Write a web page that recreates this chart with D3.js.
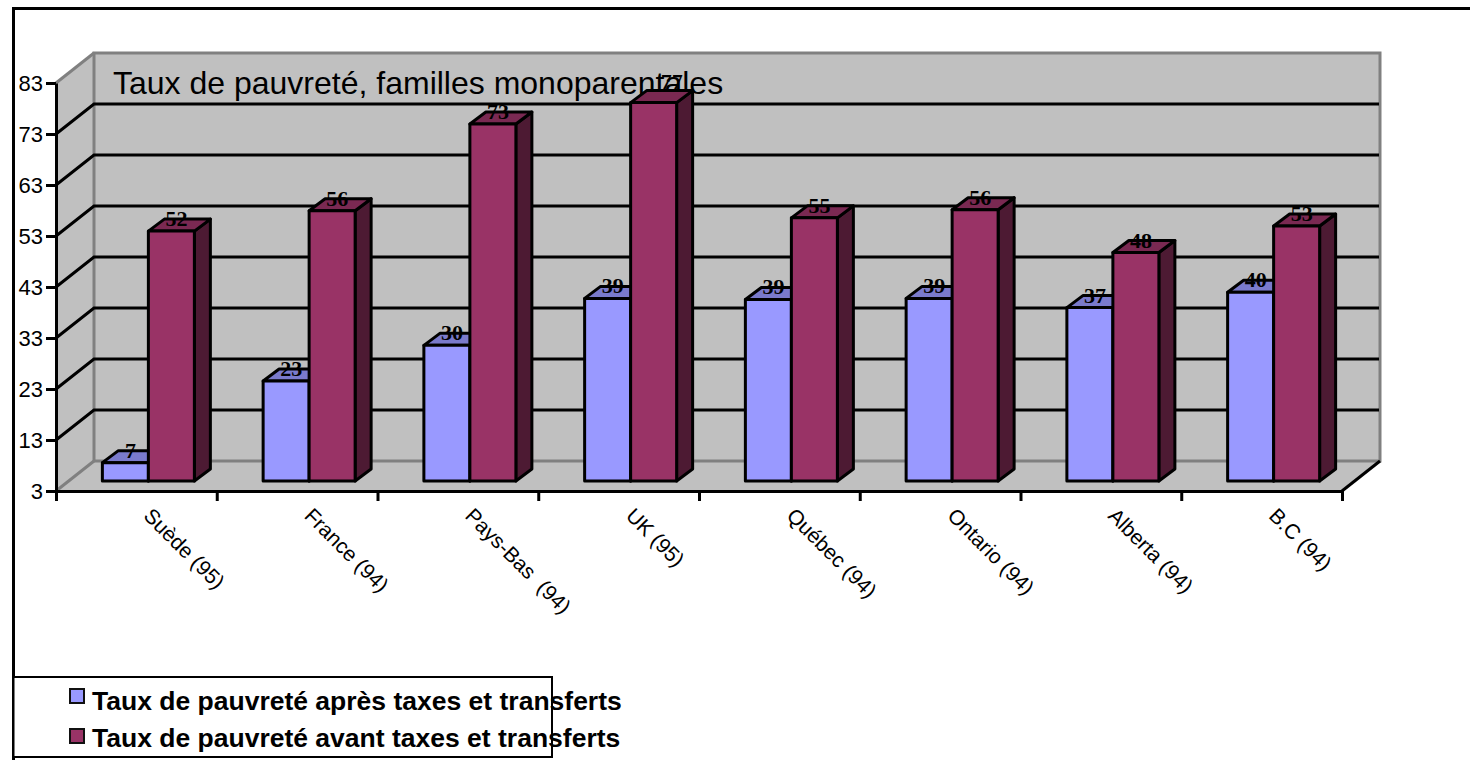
<!DOCTYPE html>
<html>
<head>
	<meta charset="utf-8">
	<script src="https://cdn.jsdelivr.net/npm/d3@7"></script>
	<style>
		html, body { margin: 0; padding: 0; background: #fff; overflow: hidden; }
		svg { display: block; }
	</style>
</head>
<body>
	<svg width="1470" height="760"></svg>
<script type="text/javascript">

	var categories = ['Suède (95)', 'France (94)', 'Pays-Bas  (94)', 'UK (95)', 'Québec (94)', 'Ontario (94)', 'Alberta (94)', 'B.C (94)']
	var apres = [6.6, 22.6, 29.6, 38.8, 38.6, 38.8, 37, 40]
	var avant = [52, 56, 73, 77.2, 54.6, 56.2, 47.8, 53]
	var yTicks = [3, 13, 23, 33, 43, 53, 63, 73, 83]
	var seriesNames = ['Taux de pauvreté après taxes et transferts', 'Taux de pauvreté avant taxes et transferts']
	var title = 'Taux de pauvreté, familles monoparentales'

	var colors = [
		{front: '#9999ff', top: '#7a7acc', side: '#4d4d80'},
		{front: '#993366', top: '#7a2952', side: '#4d1a33'}
	]

	var svg = d3.select('svg')

	// front plane of the 3d box, the back wall is shifted by depth
	var x0 = 56, x1 = 1342, yBottom = 491, yTop = 83
	var depth = {x: 38, y: -30}
	var barInset = {x: 12, y: -10}
	var barDepth = {x: 16, y: -12}
	var barWidth = 46

	var x = d3.scaleBand().domain(categories).range([x0, x1])
	var xEdges = d3.scaleLinear().domain([0, categories.length]).range([x0, x1])
	var y = d3.scaleLinear().domain([3, 83]).range([yBottom, yTop])

	function pts(list) {
		return list.map(function(p) { return p.join(',') }).join(' ')
	}

	var box = svg.append('g')

	// left wall
	box.append('polygon')
		.attr('points', pts([[x0, yBottom], [x0 + depth.x, yBottom + depth.y], [x0 + depth.x, yTop + depth.y], [x0, yTop]]))
		.style('fill', '#c0c0c0')
	// floor
	box.append('polygon')
		.attr('points', pts([[x0, yBottom], [x1, yBottom], [x1 + depth.x, yBottom + depth.y], [x0 + depth.x, yBottom + depth.y]]))
		.style('fill', '#c0c0c0')
	// back wall
	box.append('rect')
		.attr('x', x0 + depth.x)
		.attr('y', yTop + depth.y)
		.attr('width', x1 - x0)
		.attr('height', yBottom - yTop)
		.style('fill', '#c0c0c0')
		.style('stroke', '#808080')
		.style('stroke-width', 3)

	// grid on the wall, top and bottom ones stay grey
	box.selectAll('.grid')
		.data(yTicks.slice(1, -1))
		.enter()
		.append('polyline')
		.attr('class', 'grid')
		.attr('points', function(d) {
			return pts([[x0, y(d)], [x0 + depth.x, y(d) + depth.y], [x1 + depth.x - 1, y(d) + depth.y]])
		})
		.style('fill', 'none')
		.style('stroke', '#000')
		.style('stroke-width', 3)

	box.selectAll('.edge')
		.data([3, 83])
		.enter()
		.append('line')
		.attr('class', 'edge')
		.attr('x1', x0)
		.attr('y1', function(d) { return y(d) })
		.attr('x2', x0 + depth.x)
		.attr('y2', function(d) { return y(d) + depth.y })
		.style('stroke', '#808080')
		.style('stroke-width', 3)

	box.append('line')
		.attr('x1', x1)
		.attr('y1', yBottom)
		.attr('x2', x1 + depth.x)
		.attr('y2', yBottom + depth.y)
		.style('stroke', '#000')
		.style('stroke-width', 3)

	// title sits behind the bars
	svg.append('text')
		.text(title)
		.attr('x', 113)
		.attr('y', 94)
		.style('font-family', 'Liberation Sans')
		.style('font-size', '32px')
		.style('fill', '#000')

	// bars
	var bars = []
	categories.forEach(function(c, i) {
		bars.push({cat: c, v: apres[i], s: 0})
		bars.push({cat: c, v: avant[i], s: 1})
	})

	function barLeft(d) {
		return x(d.cat) + (x.step() - 2 * barWidth) / 2 + barInset.x + d.s * barWidth
	}
	var barBase = y(3) + barInset.y

	function barTop(d) {
		return y(d.v) + barInset.y
	}

	var bar = svg.selectAll('.bar')
		.data(bars)
		.enter()
		.append('g')
		.attr('class', 'bar')
		.style('stroke', '#000')
		.style('stroke-width', 3)
		.style('stroke-linejoin', 'round')

	bar.append('polygon')
		.attr('points', function(d) {
			var l = barLeft(d), r = l + barWidth, t = barTop(d)
			return pts([[r, t], [r + barDepth.x, t + barDepth.y], [r + barDepth.x, barBase + barDepth.y], [r, barBase]])
		})
		.style('fill', function(d) { return colors[d.s].side })

	bar.append('polygon')
		.attr('points', function(d) {
			var l = barLeft(d), r = l + barWidth, t = barTop(d)
			return pts([[l, t], [l + barDepth.x, t + barDepth.y], [r + barDepth.x, t + barDepth.y], [r, t]])
		})
		.style('fill', function(d) { return colors[d.s].top })

	bar.append('rect')
		.attr('x', barLeft)
		.attr('y', barTop)
		.attr('width', barWidth)
		.attr('height', function(d) { return barBase - barTop(d) })
		.style('fill', function(d) { return colors[d.s].front })

	// the tallest bar's label got pushed up and right in the original
	function isTallest(d) {
		return d.v === d3.max(avant)
	}

	svg.selectAll('.value')
		.data(bars)
		.enter()
		.append('text')
		.attr('class', 'value')
		.text(function(d) { return d3.format('.0f')(d.v) })
		.attr('x', function(d) { return barLeft(d) + barWidth / 2 + 5 + (isTallest(d) ? 13 : 0) })
		.attr('y', function(d) { return barTop(d) - 5 - (isTallest(d) ? 9 : 0) })
		.style('text-anchor', 'middle')
		.style('font-family', 'Liberation Serif')
		.style('font-weight', 'bold')
		.style('font-size', '22px')
		.style('fill', '#000')

	// axes
	var yAxis = svg.append('g')
		.attr('transform', 'translate(' + x0 + ',0)')
		.call(d3.axisLeft(y).tickValues(yTicks).tickSize(10).tickPadding(3).tickSizeOuter(0))

	var xAxis = svg.append('g')
		.attr('transform', 'translate(0,' + yBottom + ')')
		.call(d3.axisBottom(xEdges).tickValues(d3.range(categories.length + 1)).tickSize(10).tickSizeOuter(0).tickFormat(''))

	svg.selectAll('.domain, .tick line')
		.style('stroke', '#000')
		.style('stroke-width', 3)

	yAxis.selectAll('text')
		.style('font-family', 'Liberation Sans')
		.style('font-size', '22px')
		.style('fill', '#000')

	svg.selectAll('.cat')
		.data(categories)
		.enter()
		.append('text')
		.attr('class', 'cat')
		.text(function(d) { return d })
		.attr('transform', function(d) {
			return 'translate(' + (x(d) + x.step() / 2 + 6) + ',' + (yBottom + 26) + ') rotate(45)'
		})
		.style('white-space', 'pre')
		.style('font-family', 'Liberation Sans')
		.style('font-size', '21px')
		.style('fill', '#000')

	// outer frame runs off the page on the right and bottom
	svg.append('rect')
		.attr('x', 13.5)
		.attr('y', 8.5)
		.attr('width', 1480)
		.attr('height', 780)
		.style('fill', 'none')
		.style('stroke', '#000')
		.style('stroke-width', 3)

	// legend
	svg.append('rect')
		.attr('x', 13.5)
		.attr('y', 677)
		.attr('width', 538.5)
		.attr('height', 80)
		.style('fill', '#fff')
		.style('stroke', '#000')
		.style('stroke-width', 2)

	var legendY = d3.scalePoint().domain(seriesNames).range([696, 736])
	var legendText = d3.scalePoint().domain(seriesNames).range([710, 747])

	svg.selectAll('.swatch')
		.data(seriesNames)
		.enter()
		.append('rect')
		.attr('class', 'swatch')
		.attr('x', 70)
		.attr('y', function(d) { return legendY(d) - 7 })
		.attr('width', 14)
		.attr('height', 14)
		.style('fill', function(d, i) { return colors[i].front })
		.style('stroke', '#111')
		.style('stroke-width', 2)

	svg.selectAll('.legend')
		.data(seriesNames)
		.enter()
		.append('text')
		.attr('class', 'legend')
		.text(function(d) { return d })
		.attr('x', 92)
		.attr('y', function(d) { return legendText(d) })
		.style('font-family', 'Liberation Sans')
		.style('font-weight', 'bold')
		.style('font-size', '26.5px')
		.style('fill', '#000')

</script>
</body>
</html>
